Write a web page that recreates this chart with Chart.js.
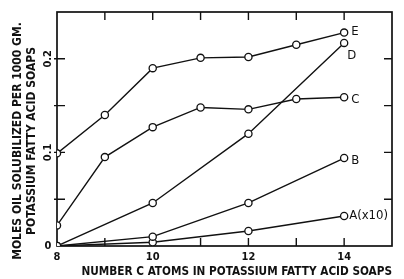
<!DOCTYPE html>
<html>
<head>
<meta charset="utf-8">
<script src="https://cdn.jsdelivr.net/npm/chart.js@4"></script>
<style>
  html, body { margin: 0; padding: 0; background: #fff; }
  #wrap { width: 404px; height: 279px; }
</style>
</head>
<body>
<div id="wrap"><canvas id="chart" width="404" height="279"></canvas></div>
<script>
// carbon atoms per soap
const xE = [8, 9, 10, 11, 12, 13, 14];
const yE = [0.099, 0.14, 0.19, 0.201, 0.202, 0.215, 0.228];
const xD = [8, 10, 12, 14];
const yD = [0, 0.046, 0.12, 0.217];
const xC = [8, 9, 10, 11, 12, 13, 14];
const yC = [0.022, 0.095, 0.127, 0.148, 0.146, 0.157, 0.159];
const xB = [8, 10, 12, 14];
const yB = [0, 0.01, 0.046, 0.094];
const xA = [8, 10, 12, 14];
const yA = [0, 0.004, 0.016, 0.032];
const seriesNames = ["E", "D", "C", "B", "A(x10)"];
const xTickLabels = [8, 10, 12, 14];
const yTickLabels = [0, 0.1, 0.2];
const yTitle = ["MOLES OIL SOLUBILIZED PER 1000 GM.", "POTASSIUM FATTY ACID SOAPS"];

const ink = "#111";
const font = "'DejaVu Sans Condensed', 'Liberation Sans', sans-serif";

function pts(xs, ys) {
  return xs.map((x, i) => ({ x: x, y: ys[i] }));
}

function makeSet(name, xs, ys) {
  return {
    label: name,
    data: pts(xs, ys),
    borderColor: ink,
    borderWidth: 1.4,
    pointRadius: 3.6,
    pointBorderWidth: 1.3,
    pointBackgroundColor: "#fff",
    pointBorderColor: ink,
    tension: 0
  };
}

// curve names next to the last point
const labelOffsets = { "E": [7, -1], "D": [3, 13], "C": [7, 2], "B": [7, 3], "A(x10)": [5, 0] };

const endLabels = {
  id: "endLabels",
  afterDatasetsDraw(chart) {
    const ctx = chart.ctx;
    ctx.save();
    ctx.fillStyle = ink;
    ctx.font = "13px " + font;
    ctx.textBaseline = "middle";
    chart.data.datasets.forEach((ds, i) => {
      const meta = chart.getDatasetMeta(i);
      const p = meta.data[meta.data.length - 1];
      const off = labelOffsets[ds.label];
      ctx.fillText(ds.label, p.x + off[0], p.y + off[1]);
    });
    ctx.restore();
  }
};

// box, inward ticks on all four sides, y labels and title turned on their side
const frame = {
  id: "frame",
  beforeDatasetsDraw(chart) {
    const ctx = chart.ctx;
    const a = chart.chartArea;
    const xs = chart.scales.x;
    const ys = chart.scales.y;
    ctx.save();
    ctx.strokeStyle = ink;
    ctx.lineWidth = 1.7;
    ctx.strokeRect(a.left, a.top, a.right - a.left, a.bottom - a.top);
    ctx.lineWidth = 1.4;
    ctx.beginPath();
    xs.ticks.forEach(t => {
      const px = xs.getPixelForValue(t.value);
      if (px <= a.left + 1 || px >= a.right - 1) return;
      ctx.moveTo(px, a.bottom); ctx.lineTo(px, a.bottom - 8);
      ctx.moveTo(px, a.top); ctx.lineTo(px, a.top + 8);
    });
    ys.ticks.forEach(t => {
      const py = ys.getPixelForValue(t.value);
      if (py <= a.top + 1 || py >= a.bottom - 1) return;
      ctx.moveTo(a.left - 3, py); ctx.lineTo(a.left + 8, py);
      ctx.moveTo(a.right, py); ctx.lineTo(a.right - 8, py);
    });
    ctx.stroke();

    ctx.fillStyle = ink;
    ctx.textAlign = "center";
    ctx.textBaseline = "middle";
    ctx.font = "bold 11px " + font;
    yTickLabels.forEach(v => {
      const py = ys.getPixelForValue(v);
      ctx.save();
      ctx.translate(a.left - 9, py);
      if (v !== 0) ctx.rotate(-Math.PI / 2);
      ctx.fillText(String(v), 0, 0);
      ctx.restore();
    });

    ctx.font = "bold 12px " + font;
    ctx.translate(0, (a.top + a.bottom) / 2 + 12);
    ctx.rotate(-Math.PI / 2);
    ctx.fillText(yTitle[0], 0, 18);
    ctx.fillText(yTitle[1], 0, 32);
    ctx.restore();
  }
};

new Chart(document.getElementById("chart"), {
  type: "line",
  data: {
    datasets: [
      makeSet(seriesNames[0], xE, yE),
      makeSet(seriesNames[1], xD, yD),
      makeSet(seriesNames[2], xC, yC),
      makeSet(seriesNames[3], xB, yB),
      makeSet(seriesNames[4], xA, yA)
    ]
  },
  options: {
    responsive: false,
    animation: false,
    layout: { padding: { top: 12, right: 12, left: 0, bottom: 0 } },
    plugins: { legend: { display: false }, tooltip: { enabled: false } },
    scales: {
      x: {
        type: "linear",
        min: 8,
        max: 15,
        afterFit(s) { s.height = 33; },
        ticks: {
          stepSize: 1,
          autoSkip: false,
          maxRotation: 0,
          padding: 5,
          color: ink,
          font: { family: font, size: 11, weight: "bold" },
          callback: v => xTickLabels.includes(v) ? String(v) : ""
        },
        grid: { drawOnChartArea: false, drawTicks: false },
        border: { display: false },
        title: {
          display: true,
          align: "end",
          text: "NUMBER C ATOMS IN POTASSIUM FATTY ACID SOAPS",
          color: ink,
          font: { family: font, size: 11.7, weight: "bold" },
          padding: { top: 0, bottom: 0 }
        }
      },
      y: {
        type: "linear",
        min: 0,
        max: 0.25,
        afterFit(s) { s.width = 57; },
        ticks: { stepSize: 0.05, display: false },
        grid: { drawOnChartArea: false, drawTicks: false },
        border: { display: false }
      }
    }
  },
  plugins: [frame, endLabels]
});
</script>
</body>
</html>
